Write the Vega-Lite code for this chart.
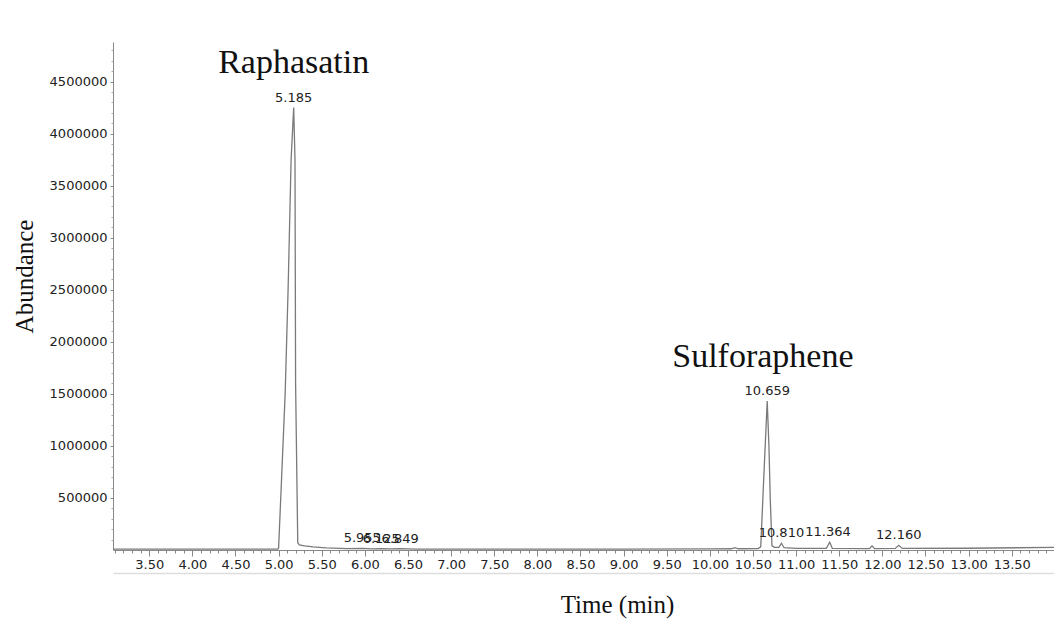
{
  "$schema": "https://vega.github.io/schema/vega-lite/v6.json",
  "width": 941,
  "height": 508,
  "autosize": {"type": "none"},
  "padding": {"left": 113, "top": 42, "right": 0, "bottom": 70},
  "background": "white",
  "config": {"view": {"stroke": null}},
  "datasets": {
    "trace": [
      {"time": 3.08, "abundance": 8000},
      {"time": 4.0, "abundance": 8000},
      {"time": 4.75, "abundance": 9000},
      {"time": 4.99, "abundance": 8000},
      {"time": 5.0, "abundance": 20000},
      {"time": 5.03, "abundance": 600000},
      {"time": 5.076, "abundance": 1500000},
      {"time": 5.11, "abundance": 2500000},
      {"time": 5.145, "abundance": 3750000},
      {"time": 5.175, "abundance": 4250000},
      {"time": 5.19, "abundance": 3750000},
      {"time": 5.197, "abundance": 1600000},
      {"time": 5.222, "abundance": 70000},
      {"time": 5.24, "abundance": 50000},
      {"time": 5.3, "abundance": 40000},
      {"time": 5.4, "abundance": 30000},
      {"time": 5.55, "abundance": 20000},
      {"time": 5.8, "abundance": 13000},
      {"time": 5.97, "abundance": 16000},
      {"time": 6.08, "abundance": 11000},
      {"time": 6.19, "abundance": 14000},
      {"time": 6.3, "abundance": 10000},
      {"time": 6.41, "abundance": 13000},
      {"time": 6.6, "abundance": 9000},
      {"time": 7.5, "abundance": 8000},
      {"time": 9.0, "abundance": 8000},
      {"time": 10.0, "abundance": 10000},
      {"time": 10.25, "abundance": 12000},
      {"time": 10.29, "abundance": 22000},
      {"time": 10.33, "abundance": 12000},
      {"time": 10.56, "abundance": 14000},
      {"time": 10.59, "abundance": 30000},
      {"time": 10.62, "abundance": 600000},
      {"time": 10.665, "abundance": 1430000},
      {"time": 10.685, "abundance": 1000000},
      {"time": 10.7, "abundance": 500000},
      {"time": 10.72, "abundance": 40000},
      {"time": 10.75, "abundance": 25000},
      {"time": 10.8, "abundance": 25000},
      {"time": 10.83, "abundance": 65000},
      {"time": 10.86, "abundance": 22000},
      {"time": 11.0, "abundance": 15000},
      {"time": 11.35, "abundance": 15000},
      {"time": 11.39, "abundance": 75000},
      {"time": 11.42, "abundance": 15000},
      {"time": 11.85, "abundance": 13000},
      {"time": 11.88, "abundance": 40000},
      {"time": 11.91, "abundance": 13000},
      {"time": 12.15, "abundance": 15000},
      {"time": 12.19, "abundance": 45000},
      {"time": 12.23, "abundance": 15000},
      {"time": 13.0, "abundance": 17000},
      {"time": 13.99, "abundance": 25000}
    ],
    "peaks": [
      {"time": 5.175, "abundance": 4250000, "label": "5.185"},
      {"time": 5.97, "abundance": 16000, "label": "5.955"},
      {"time": 6.19, "abundance": 14000, "label": "6.125"},
      {"time": 6.41, "abundance": 13000, "label": "6.849"},
      {"time": 10.665, "abundance": 1430000, "label": "10.659"},
      {"time": 10.83, "abundance": 65000, "label": "10.810"},
      {"time": 11.37, "abundance": 75000, "label": "11.364"},
      {"time": 12.19, "abundance": 45000, "label": "12.160"}
    ],
    "names": [
      {"time": 5.175, "abundance": 4680000, "name": "Raphasatin"},
      {"time": 10.615, "abundance": 1850000, "name": "Sulforaphene"}
    ]
  },
  "resolve": {"axis": {"x": "independent", "y": "independent"}},
  "layer": [
    {
      "data": {"name": "trace"},
      "mark": {"type": "line", "color": "#7a7a7a", "strokeWidth": 1.3},
      "encoding": {
        "x": {
          "field": "time", "type": "quantitative",
          "scale": {"domain": [3.08, 13.99], "nice": false, "zero": false},
          "axis": {
            "orient": "bottom",
            "values": [3.5, 4.0, 4.5, 5.0, 5.5, 6.0, 6.5, 7.0, 7.5, 8.0, 8.5, 9.0, 9.5, 10.0, 10.5, 11.0, 11.5, 12.0, 12.5, 13.0, 13.5],
            "format": ".2f",
            "grid": false,
            "domainColor": "#888", "tickColor": "#888", "tickSize": 6,
            "labelFont": "DejaVu Sans", "labelFontSize": 13, "labelColor": "#222",
            "labelPadding": 2, "labelFlush": false, "labelOverlap": false,
            "title": "Time (min)",
            "titleFont": "Liberation Serif", "titleFontSize": 25, "titleFontWeight": "normal",
            "titleColor": "#111", "titleX": 504, "titleY": 54, "titleBaseline": "middle", "titleAlign": "center"
          }
        },
        "y": {
          "field": "abundance", "type": "quantitative",
          "scale": {"domain": [0, 4880000], "nice": false},
          "axis": {
            "orient": "left",
            "values": [500000, 1000000, 1500000, 2000000, 2500000, 3000000, 3500000, 4000000, 4500000],
            "format": "d",
            "grid": false,
            "domainColor": "#888", "tickColor": "#888", "tickSize": 3,
            "labelFont": "DejaVu Sans", "labelFontSize": 13, "labelColor": "#222",
            "labelPadding": 3,
            "title": "Abundance",
            "titleFont": "Liberation Serif", "titleFontSize": 25, "titleFontWeight": "normal",
            "titleColor": "#111", "titleX": -89, "titleY": 234, "titleBaseline": "middle", "titleAlign": "center", "titleAngle": -90
          }
        }
      }
    },
    {
      "data": {"name": "peaks"},
      "mark": {"type": "text", "font": "DejaVu Sans", "fontSize": 13, "color": "#222", "baseline": "bottom", "dy": -3},
      "encoding": {
        "x": {
          "field": "time", "type": "quantitative",
          "axis": {
            "orient": "bottom",
            "values": [3.1, 3.2, 3.3, 3.4, 3.6, 3.7, 3.8, 3.9, 4.1, 4.2, 4.3, 4.4, 4.6, 4.7, 4.8, 4.9, 5.1, 5.2, 5.3, 5.4, 5.6, 5.7, 5.8, 5.9, 6.1, 6.2, 6.3, 6.4, 6.6, 6.7, 6.8, 6.9, 7.1, 7.2, 7.3, 7.4, 7.6, 7.7, 7.8, 7.9, 8.1, 8.2, 8.3, 8.4, 8.6, 8.7, 8.8, 8.9, 9.1, 9.2, 9.3, 9.4, 9.6, 9.7, 9.8, 9.9, 10.1, 10.2, 10.3, 10.4, 10.6, 10.7, 10.8, 10.9, 11.1, 11.2, 11.3, 11.4, 11.6, 11.7, 11.8, 11.9, 12.1, 12.2, 12.3, 12.4, 12.6, 12.7, 12.8, 12.9, 13.1, 13.2, 13.3, 13.4, 13.6, 13.7, 13.8, 13.9],
            "labels": false, "domain": false, "grid": false,
            "tickColor": "#888", "tickSize": 3, "title": null
          }
        },
        "y": {
          "field": "abundance", "type": "quantitative",
          "axis": {
            "orient": "left",
            "values": [100000, 200000, 300000, 400000, 600000, 700000, 800000, 900000, 1100000, 1200000, 1300000, 1400000, 1600000, 1700000, 1800000, 1900000, 2100000, 2200000, 2300000, 2400000, 2600000, 2700000, 2800000, 2900000, 3100000, 3200000, 3300000, 3400000, 3600000, 3700000, 3800000, 3900000, 4100000, 4200000, 4300000, 4400000, 4600000, 4700000, 4800000],
            "labels": false, "domain": false, "grid": false,
            "tickColor": "#aaa", "tickSize": 2, "title": null
          }
        },
        "text": {"field": "label", "type": "nominal"}
      }
    },
    {
      "data": {"name": "names"},
      "mark": {"type": "text", "font": "Liberation Serif", "fontSize": 34, "color": "#111", "baseline": "middle", "align": "center"},
      "encoding": {
        "x": {
          "field": "time", "type": "quantitative",
          "axis": {
            "orient": "bottom", "offset": 23,
            "labels": false, "ticks": false, "grid": false,
            "domain": true, "domainColor": "#dddddd", "domainWidth": 1.5, "title": null
          }
        },
        "y": {"field": "abundance", "type": "quantitative", "axis": null},
        "text": {"field": "name", "type": "nominal"}
      }
    }
  ]
}
